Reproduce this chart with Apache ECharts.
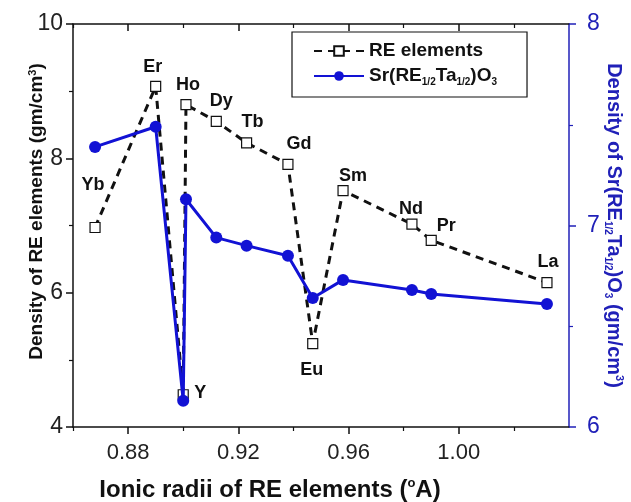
<!DOCTYPE html>
<html lang="en">
<head>
  <meta charset="UTF-8">
  <title>Density vs ionic radii</title>
  <script src="https://cdn.jsdelivr.net/npm/echarts@6/dist/echarts.min.js"></script>
  <style>
    html, body { margin: 0; padding: 0; background: #fff; }
    #chart { width: 631px; height: 502px; }
  </style>
</head>
<body>
<div id="chart"></div>
<script>
  // values
  const elements = ['Yb', 'Er', 'Y', 'Ho', 'Dy', 'Tb', 'Gd', 'Eu', 'Sm', 'Nd', 'Pr', 'La'];
  const ionicRadii = [0.868, 0.890, 0.900, 0.901, 0.912, 0.923, 0.938, 0.947, 0.958, 0.983, 0.990, 1.032];
  const reDensity = [6.97, 9.07, 4.48, 8.80, 8.55, 8.23, 7.91, 5.24, 7.52, 7.02, 6.78, 6.15];
  const srDensity = [7.39, 7.49, 6.13, 7.13, 6.94, 6.90, 6.85, 6.64, 6.73, 6.68, 6.66, 6.61];

  const xMajorTicks = [0.88, 0.92, 0.96, 1.00];
  const xMinorTicks = [0.86, 0.90, 0.94, 0.98, 1.02];

  // where each element name sits relative to its square
  const labelOffsets = [[-2, -42], [-3, -19], [17, -2], [2, -20], [5, -20], [6, -21],
                        [11, -20], [-1, 26], [10, -15], [-1, -15], [15, -14], [1, -21]];

  const BLUE = '#1212d4';
  const BLUE_AXIS = '#2020b8';
  const FONT = '"Liberation Sans", Arial, sans-serif';

  const chart = echarts.init(document.getElementById('chart'));

  const xBase = { type: 'value', min: 0.86, max: 1.04, splitLine: { show: false } };

  chart.setOption({
    animation: false,
    textStyle: { fontFamily: FONT },
    grid: { left: 73, right: 62, top: 24, bottom: 75, outerBoundsMode: 'none' },
    legend: {
      orient: 'vertical',
      left: 292,
      top: 32,
      padding: [8, 30, 10, 21],
      itemGap: 3,
      itemWidth: 50,
      itemHeight: 12,
      borderColor: '#111',
      borderWidth: 1.2,
      data: ['RE elements', 'Sr(RE1/2Ta1/2)O3'],
      formatter: name => name === 'RE elements' ? name : 'Sr(RE{s|1/2}Ta{s|1/2})O{s|3}',
      textStyle: {
        fontFamily: FONT, fontSize: 19, fontWeight: 'bold', color: '#111', lineHeight: 22,
        rich: { s: { fontFamily: FONT, fontSize: 10, fontWeight: 'bold', color: '#111', lineHeight: 4, verticalAlign: 'bottom' } }
      }
    },
    xAxis: [
      Object.assign({}, xBase, {
        position: 'bottom',
        name: 'Ionic radii of RE elements ({p|o}A)',
        nameLocation: 'middle',
        nameGap: 50,
        nameMoveOverlap: false,
        nameTextStyle: {
          fontFamily: FONT, fontSize: 24, fontWeight: 'bold', color: '#111', lineHeight: 26,
          padding: [0, 102, 0, 0],
          rich: { p: { fontFamily: FONT, fontSize: 13, fontWeight: 'bold', color: '#111', lineHeight: 8, verticalAlign: 'top' } }
        },
        axisLine: { lineStyle: { color: '#111', width: 1.5 } },
        axisTick: { customValues: xMajorTicks, length: 7, lineStyle: { color: '#111', width: 1.5 } },
        axisLabel: { customValues: xMajorTicks, formatter: v => v.toFixed(2), fontSize: 22, color: '#222', margin: 15 }
      }),
      Object.assign({}, xBase, {
        position: 'bottom',
        axisLine: { show: false },
        axisTick: { customValues: xMinorTicks, length: 4, lineStyle: { color: '#111', width: 1.2 } },
        axisLabel: { show: false }
      }),
      Object.assign({}, xBase, {
        position: 'top',
        axisLine: { lineStyle: { color: '#111', width: 1.5 } },
        axisTick: { customValues: xMajorTicks, inside: true, length: 7, lineStyle: { color: '#111', width: 1.5 } },
        axisLabel: { show: false }
      }),
      Object.assign({}, xBase, {
        position: 'top',
        axisLine: { show: false },
        axisTick: { customValues: xMinorTicks, inside: true, length: 4, lineStyle: { color: '#111', width: 1.2 } },
        axisLabel: { show: false }
      })
    ],
    yAxis: [
      {
        type: 'value', position: 'left', min: 4, max: 10, interval: 2,
        splitLine: { show: false },
        name: 'Density of RE elements (gm/cm{p|3})',
        nameLocation: 'middle',
        nameGap: 26,
        nameMoveOverlap: false,
        nameTextStyle: {
          fontFamily: FONT, fontSize: 19, fontWeight: 'bold', color: '#111', lineHeight: 20,
          padding: [0, 0, 0, 28],
          rich: { p: { fontFamily: FONT, fontSize: 11, fontWeight: 'bold', color: '#111', lineHeight: 6, verticalAlign: 'top' } }
        },
        axisLine: { show: true, lineStyle: { color: '#111', width: 1.5 } },
        axisTick: { show: true, length: 7, lineStyle: { color: '#111', width: 1.5 } },
        minorTick: { show: true, splitNumber: 2, length: 4, lineStyle: { color: '#111', width: 1.2 } },
        axisLabel: { fontSize: 23, color: '#222', margin: 10 }
      },
      {
        type: 'value', position: 'right', min: 6, max: 8, interval: 1,
        splitLine: { show: false },
        name: 'Density of Sr(RE{s|1/2}Ta{s|1/2})O{s|3} (gm/cm{p|3})',
        nameLocation: 'middle',
        nameRotate: -90,
        nameGap: 34,
        nameMoveOverlap: false,
        nameTextStyle: {
          fontFamily: FONT, fontSize: 20, fontWeight: 'bold', color: BLUE_AXIS, lineHeight: 22,
          rich: {
            s: { fontFamily: FONT, fontSize: 10, fontWeight: 'bold', color: BLUE_AXIS, lineHeight: 4, verticalAlign: 'bottom' },
            p: { fontFamily: FONT, fontSize: 11, fontWeight: 'bold', color: BLUE_AXIS, lineHeight: 6, verticalAlign: 'top' }
          }
        },
        axisLine: { show: true, lineStyle: { color: BLUE_AXIS, width: 1.5 } },
        axisTick: { show: true, length: 7, lineStyle: { color: BLUE_AXIS, width: 1.5 } },
        minorTick: { show: true, splitNumber: 2, length: 4, lineStyle: { color: BLUE_AXIS, width: 1.2 } },
        axisLabel: { fontSize: 23, color: BLUE_AXIS, margin: 18 }
      }
    ],
    series: [
      {
        name: 'RE elements',
        type: 'line',
        xAxisIndex: 0,
        yAxisIndex: 0,
        symbol: 'rect',
        symbolSize: 10,
        z: 2,
        lineStyle: { color: '#111', width: 3, type: [8, 6] },
        itemStyle: { color: '#fff', borderColor: '#111', borderWidth: 1.2 },
        label: {
          show: true,
          position: 'inside',
          fontFamily: FONT, fontSize: 18, fontWeight: 'bold', color: '#111',
          formatter: p => elements[p.dataIndex]
        },
        emphasis: { disabled: true },
        data: ionicRadii.map((x, i) => ({ value: [x, reDensity[i]], label: { offset: labelOffsets[i] } }))
      },
      {
        name: 'Sr(RE1/2Ta1/2)O3',
        type: 'line',
        xAxisIndex: 0,
        yAxisIndex: 1,
        symbol: 'circle',
        symbolSize: 12,
        z: 3,
        lineStyle: { color: BLUE, width: 3 },
        itemStyle: { color: BLUE },
        emphasis: { disabled: true },
        data: ionicRadii.map((x, i) => [x, srDensity[i]])
      }
    ]
  });
</script>
</body>
</html>
